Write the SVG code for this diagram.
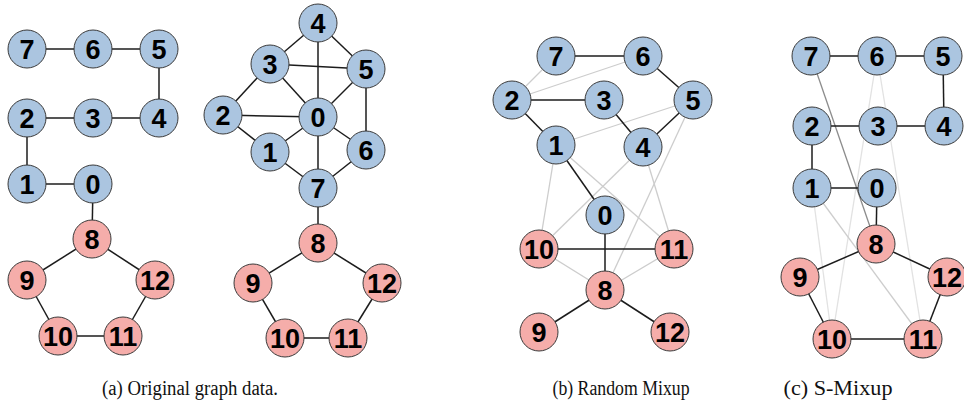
<svg xmlns="http://www.w3.org/2000/svg" width="964" height="404" viewBox="0 0 964 404">
  <style>
    .e { stroke: #1c1c1c; stroke-width: 1.5; fill: none; }
    .g { stroke: #cdcdcd; stroke-width: 1.3; fill: none; }
    .gl { stroke: #e2e2e2; stroke-width: 1.3; fill: none; }
    .gd { stroke: #8c8c8c; stroke-width: 1.3; fill: none; }
    .b circle { fill: #abc5e0; stroke: #3a3a3a; stroke-width: 1; }
    .r circle { fill: #f5adaa; stroke: #3a3a3a; stroke-width: 1; }
    .n text { font-family: "Liberation Sans", Arial, sans-serif; font-weight: bold; font-size: 27px; fill: #000; text-anchor: middle; }
    .cap { font-family: "Liberation Serif", "Times New Roman", serif; font-size: 20px; fill: #111; text-anchor: middle; }
  </style>
  <rect width="964" height="404" fill="#fff"/>

  <!-- (a) original graph -->
  <g id="edges-a">
    <line class="e" x1="27" y1="49" x2="93" y2="49"/>
    <line class="e" x1="93" y1="49" x2="159" y2="49"/>
    <line class="e" x1="159" y1="49" x2="159" y2="118"/>
    <line class="e" x1="159" y1="118" x2="93" y2="118"/>
    <line class="e" x1="93" y1="118" x2="27" y2="118"/>
    <line class="e" x1="27" y1="118" x2="27" y2="184"/>
    <line class="e" x1="27" y1="184" x2="93" y2="184"/>
    <line class="e" x1="93" y1="184" x2="92" y2="239"/>
    <line class="e" x1="92" y1="239" x2="27" y2="280"/>
    <line class="e" x1="92" y1="239" x2="155" y2="280"/>
    <line class="e" x1="27" y1="280" x2="58" y2="336"/>
    <line class="e" x1="58" y1="336" x2="123" y2="336"/>
    <line class="e" x1="123" y1="336" x2="155" y2="280"/>
  </g>
  <g id="nodes-a" class="n">
    <g id="a7" class="b"><circle cx="27" cy="49" r="19"/><text x="27" y="58.8">7</text></g>
    <g id="a6" class="b"><circle cx="93" cy="49" r="19"/><text x="93" y="58.8">6</text></g>
    <g id="a5" class="b"><circle cx="159" cy="49" r="19"/><text x="159" y="58.8">5</text></g>
    <g id="a2" class="b"><circle cx="27" cy="118" r="19"/><text x="27" y="127.8">2</text></g>
    <g id="a3" class="b"><circle cx="93" cy="118" r="19"/><text x="93" y="127.8">3</text></g>
    <g id="a4" class="b"><circle cx="159" cy="118" r="19"/><text x="159" y="127.8">4</text></g>
    <g id="a1" class="b"><circle cx="27" cy="184" r="19"/><text x="27" y="193.8">1</text></g>
    <g id="a0" class="b"><circle cx="93" cy="184" r="19"/><text x="93" y="193.8">0</text></g>
    <g id="a8" class="r"><circle cx="92" cy="239" r="19"/><text x="92" y="248.8">8</text></g>
    <g id="a9" class="r"><circle cx="27" cy="280" r="19"/><text x="27" y="289.8">9</text></g>
    <g id="a12" class="r"><circle cx="155" cy="280" r="19"/><text x="155" y="289.8">12</text></g>
    <g id="a10" class="r"><circle cx="58" cy="336" r="19"/><text x="58" y="345.8">10</text></g>
    <g id="a11" class="r"><circle cx="123" cy="336" r="19"/><text x="123" y="345.8">11</text></g>
  </g>

  <!-- (a) second graph -->
  <g id="edges-b">
    <line class="e" x1="318" y1="23" x2="270" y2="64"/>
    <line class="e" x1="318" y1="23" x2="366" y2="69"/>
    <line class="e" x1="318" y1="23" x2="318" y2="117"/>
    <line class="e" x1="270" y1="64" x2="366" y2="69"/>
    <line class="e" x1="270" y1="64" x2="223" y2="115"/>
    <line class="e" x1="270" y1="64" x2="318" y2="117"/>
    <line class="e" x1="223" y1="115" x2="318" y2="117"/>
    <line class="e" x1="223" y1="115" x2="270" y2="152"/>
    <line class="e" x1="270" y1="152" x2="318" y2="117"/>
    <line class="e" x1="318" y1="117" x2="366" y2="69"/>
    <line class="e" x1="366" y1="69" x2="366" y2="150"/>
    <line class="e" x1="318" y1="117" x2="366" y2="150"/>
    <line class="e" x1="318" y1="117" x2="318" y2="188"/>
    <line class="e" x1="270" y1="152" x2="318" y2="188"/>
    <line class="e" x1="366" y1="150" x2="318" y2="188"/>
    <line class="e" x1="318" y1="188" x2="318" y2="243"/>
    <line class="e" x1="318" y1="243" x2="253" y2="283"/>
    <line class="e" x1="318" y1="243" x2="382" y2="283"/>
    <line class="e" x1="253" y1="283" x2="285" y2="338"/>
    <line class="e" x1="285" y1="338" x2="348" y2="338"/>
    <line class="e" x1="348" y1="338" x2="382" y2="283"/>
  </g>
  <g id="nodes-b" class="n">
    <g id="b4" class="b"><circle cx="318" cy="23" r="19"/><text x="318" y="32.8">4</text></g>
    <g id="b3" class="b"><circle cx="270" cy="64" r="19"/><text x="270" y="73.8">3</text></g>
    <g id="b5" class="b"><circle cx="366" cy="69" r="19"/><text x="366" y="78.8">5</text></g>
    <g id="b2" class="b"><circle cx="223" cy="115" r="19"/><text x="223" y="124.8">2</text></g>
    <g id="b0" class="b"><circle cx="318" cy="117" r="19"/><text x="318" y="126.8">0</text></g>
    <g id="b1" class="b"><circle cx="270" cy="152" r="19"/><text x="270" y="161.8">1</text></g>
    <g id="b6" class="b"><circle cx="366" cy="150" r="19"/><text x="366" y="159.8">6</text></g>
    <g id="b7" class="b"><circle cx="318" cy="188" r="19"/><text x="318" y="197.8">7</text></g>
    <g id="b8" class="r"><circle cx="318" cy="243" r="19"/><text x="318" y="252.8">8</text></g>
    <g id="b9" class="r"><circle cx="253" cy="283" r="19"/><text x="253" y="292.8">9</text></g>
    <g id="b12" class="r"><circle cx="382" cy="283" r="19"/><text x="382" y="292.8">12</text></g>
    <g id="b10" class="r"><circle cx="285" cy="338" r="19"/><text x="285" y="347.8">10</text></g>
    <g id="b11" class="r"><circle cx="348" cy="338" r="19"/><text x="348" y="347.8">11</text></g>
  </g>

  <!-- (b) random mixup -->
  <g id="edges-c">
    <line class="g" x1="556" y1="56" x2="512" y2="100"/>
    <line class="g" x1="512" y1="100" x2="643" y2="56"/>
    <line class="g" x1="556" y1="145" x2="693" y2="100"/>
    <line class="g" x1="556" y1="145" x2="539" y2="249"/>
    <line class="g" x1="643" y1="147" x2="539" y2="249"/>
    <line class="g" x1="556" y1="145" x2="674" y2="249"/>
    <line class="g" x1="643" y1="147" x2="674" y2="249"/>
    <line class="g" x1="693" y1="100" x2="605" y2="290"/>
    <line class="g" x1="539" y1="249" x2="605" y2="290"/>
    <line class="g" x1="674" y1="249" x2="605" y2="290"/>
    <line class="e" x1="556" y1="56" x2="643" y2="56"/>
    <line class="e" x1="643" y1="56" x2="693" y2="100"/>
    <line class="e" x1="512" y1="100" x2="604" y2="100"/>
    <line class="e" x1="512" y1="100" x2="556" y2="145"/>
    <line class="e" x1="604" y1="100" x2="643" y2="147"/>
    <line class="e" x1="693" y1="100" x2="643" y2="147"/>
    <line class="e" x1="556" y1="145" x2="605" y2="215"/>
    <line class="e" x1="605" y1="215" x2="605" y2="290"/>
    <line class="e" x1="539" y1="249" x2="674" y2="249"/>
    <line class="e" x1="605" y1="290" x2="539" y2="332"/>
    <line class="e" x1="605" y1="290" x2="670" y2="332"/>
  </g>
  <g id="nodes-c" class="n">
    <g id="c7" class="b"><circle cx="556" cy="56" r="19"/><text x="556" y="65.8">7</text></g>
    <g id="c6" class="b"><circle cx="643" cy="56" r="19"/><text x="643" y="65.8">6</text></g>
    <g id="c2" class="b"><circle cx="512" cy="100" r="19"/><text x="512" y="109.8">2</text></g>
    <g id="c3" class="b"><circle cx="604" cy="100" r="19"/><text x="604" y="109.8">3</text></g>
    <g id="c5" class="b"><circle cx="693" cy="100" r="19"/><text x="693" y="109.8">5</text></g>
    <g id="c1" class="b"><circle cx="556" cy="145" r="19"/><text x="556" y="154.8">1</text></g>
    <g id="c4" class="b"><circle cx="643" cy="147" r="19"/><text x="643" y="156.8">4</text></g>
    <g id="c0" class="b"><circle cx="605" cy="215" r="19"/><text x="605" y="224.8">0</text></g>
    <g id="c10" class="r"><circle cx="539" cy="249" r="19"/><text x="539" y="258.8">10</text></g>
    <g id="c11" class="r"><circle cx="674" cy="249" r="19"/><text x="674" y="258.8">11</text></g>
    <g id="c8" class="r"><circle cx="605" cy="290" r="19"/><text x="605" y="299.8">8</text></g>
    <g id="c9" class="r"><circle cx="539" cy="332" r="19"/><text x="539" y="341.8">9</text></g>
    <g id="c12" class="r"><circle cx="670" cy="332" r="19"/><text x="670" y="341.8">12</text></g>
  </g>

  <!-- (c) S-Mixup -->
  <g id="edges-d">
    <line class="gl" x1="877" y1="56" x2="832" y2="339"/>
    <line class="gl" x1="877" y1="56" x2="923" y2="339"/>
    <line class="gl" x1="812" y1="188" x2="832" y2="339"/>
    <line class="g" x1="812" y1="188" x2="923" y2="339"/>
    <line class="gd" x1="811" y1="56" x2="876" y2="244"/>
    <line class="e" x1="811" y1="56" x2="877" y2="56"/>
    <line class="e" x1="877" y1="56" x2="943" y2="56"/>
    <line class="e" x1="943" y1="56" x2="944" y2="126"/>
    <line class="e" x1="944" y1="126" x2="878" y2="126"/>
    <line class="e" x1="878" y1="126" x2="812" y2="126"/>
    <line class="e" x1="812" y1="126" x2="812" y2="188"/>
    <line class="e" x1="812" y1="188" x2="877" y2="188"/>
    <line class="e" x1="877" y1="188" x2="876" y2="244"/>
    <line class="e" x1="876" y1="244" x2="800" y2="277"/>
    <line class="e" x1="876" y1="244" x2="947" y2="277"/>
    <line class="e" x1="800" y1="277" x2="832" y2="339"/>
    <line class="e" x1="832" y1="339" x2="923" y2="339"/>
    <line class="e" x1="923" y1="339" x2="947" y2="277"/>
  </g>
  <g id="nodes-d" class="n">
    <g id="d7" class="b"><circle cx="811" cy="56" r="19"/><text x="811" y="65.8">7</text></g>
    <g id="d6" class="b"><circle cx="877" cy="56" r="19"/><text x="877" y="65.8">6</text></g>
    <g id="d5" class="b"><circle cx="943" cy="56" r="19"/><text x="943" y="65.8">5</text></g>
    <g id="d2" class="b"><circle cx="812" cy="126" r="19"/><text x="812" y="135.8">2</text></g>
    <g id="d3" class="b"><circle cx="878" cy="126" r="19"/><text x="878" y="135.8">3</text></g>
    <g id="d4" class="b"><circle cx="944" cy="126" r="19"/><text x="944" y="135.8">4</text></g>
    <g id="d1" class="b"><circle cx="812" cy="188" r="19"/><text x="812" y="197.8">1</text></g>
    <g id="d0" class="b"><circle cx="877" cy="188" r="19"/><text x="877" y="197.8">0</text></g>
    <g id="d8" class="r"><circle cx="876" cy="244" r="19"/><text x="876" y="253.8">8</text></g>
    <g id="d9" class="r"><circle cx="800" cy="277" r="19"/><text x="800" y="286.8">9</text></g>
    <g id="d12" class="r"><circle cx="947" cy="277" r="19"/><text x="947" y="286.8">12</text></g>
    <g id="d10" class="r"><circle cx="832" cy="339" r="19"/><text x="832" y="348.8">10</text></g>
    <g id="d11" class="r"><circle cx="923" cy="339" r="19"/><text x="923" y="348.8">11</text></g>
  </g>

  <!-- captions -->
  <g id="captions">
    <text class="cap" x="190" y="395" textLength="176" lengthAdjust="spacingAndGlyphs">(a) Original graph data.</text>
    <text class="cap" x="621" y="395" textLength="137" lengthAdjust="spacingAndGlyphs">(b) Random Mixup</text>
    <text class="cap" x="838" y="395" textLength="109" lengthAdjust="spacingAndGlyphs">(c) S-Mixup</text>
  </g>
</svg>
